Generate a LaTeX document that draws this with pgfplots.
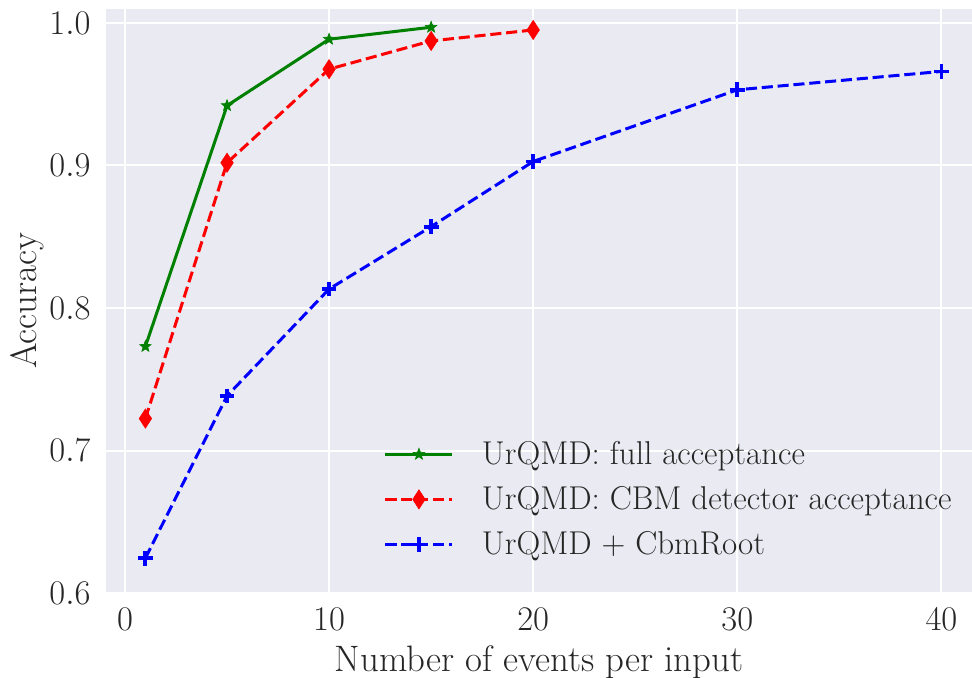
\documentclass[border=0pt]{standalone}
\usepackage{pgfplots}
\pgfplotsset{compat=1.18}
\usetikzlibrary{plotmarks}
\definecolor{bgcol}{HTML}{EAEAF2}
\definecolor{txtcol}{HTML}{262626}
\definecolor{mplgreen}{rgb}{0,0.5,0}
\pgfdeclareplotmark{fstar}{%
  \pgfpathmoveto{\pgfpointpolar{90}{\pgfplotmarksize}}%
  \pgfpathlineto{\pgfpointpolar{126}{0.42\pgfplotmarksize}}%
  \pgfpathlineto{\pgfpointpolar{162}{\pgfplotmarksize}}%
  \pgfpathlineto{\pgfpointpolar{198}{0.42\pgfplotmarksize}}%
  \pgfpathlineto{\pgfpointpolar{234}{\pgfplotmarksize}}%
  \pgfpathlineto{\pgfpointpolar{270}{0.42\pgfplotmarksize}}%
  \pgfpathlineto{\pgfpointpolar{306}{\pgfplotmarksize}}%
  \pgfpathlineto{\pgfpointpolar{342}{0.42\pgfplotmarksize}}%
  \pgfpathlineto{\pgfpointpolar{18}{\pgfplotmarksize}}%
  \pgfpathlineto{\pgfpointpolar{54}{0.42\pgfplotmarksize}}%
  \pgfpathclose\pgfusepathqfillstroke}
\pgfdeclareplotmark{fdiamond}{%
  \pgfpathmoveto{\pgfqpoint{0pt}{\pgfplotmarksize}}%
  \pgfpathlineto{\pgfqpoint{0.65\pgfplotmarksize}{0pt}}%
  \pgfpathlineto{\pgfqpoint{0pt}{-\pgfplotmarksize}}%
  \pgfpathlineto{\pgfqpoint{-0.65\pgfplotmarksize}{0pt}}%
  \pgfpathclose\pgfusepathqfillstroke}
\begin{document}
\begin{tikzpicture}
\useasboundingbox (-53pt,-42pt) rectangle (433pt,296.5pt);
\begin{axis}[
  at={(0pt,0pt)}, anchor=south west,
  scale only axis, width=433pt, height=292pt,
  xmin=-0.93, xmax=41.5, ymin=0.6, ymax=1.0098,
  xtick={0,10,20,30,40}, ytick={0.6,0.7,0.8,0.9,1.0},
  axis background/.style={fill=bgcol},
  axis line style={draw=none}, tick style={draw=none},
  grid=major, major grid style={white, line width=1pt},
  ticklabel style={font=\fontsize{16}{19}\selectfont, text=txtcol, inner sep=0pt},
  xticklabel style={yshift=-7.5pt},
  yticklabel style={xshift=-7.5pt, /pgf/number format/.cd, fixed, fixed zerofill, precision=1},
  xlabel={Number of events per input}, ylabel={Accuracy},
  label style={font=\fontsize{18.4}{22}\selectfont, text=txtcol},
  xlabel style={at={(axis description cs:0.5,0)}, anchor=base, yshift=-39pt},
  ylabel style={at={(axis description cs:0,0.5)}, anchor=center, yshift=39.5pt},
  legend style={draw=none, fill=none, at={(axis description cs:0.3205,0.2675)}, anchor=north west,
    font=\fontsize{16.5}{19.5}\selectfont, text=txtcol, row sep=5.5pt, column sep=12pt, inner sep=0pt},
  legend cell align=left,
  legend image code/.code={\draw[mark repeat=2,mark phase=2,#1] plot coordinates {(0pt,0pt) (16.75pt,0pt) (33.5pt,0pt)};},
]
\addplot[mplgreen, line width=1.5pt, mark=fstar, mark size=3pt, mark options={solid, line width=0.3pt}]
  coordinates {(1,0.773) (5,0.942) (10,0.9886) (15,0.997)};
\addlegendentry{UrQMD: full acceptance}
\addplot[red, line width=1.5pt, dash pattern=on 5.55pt off 2.4pt, mark=fdiamond, mark size=4.8pt, mark options={solid, line width=0.3pt}]
  coordinates {(1,0.7224) (5,0.9019) (10,0.9676) (15,0.9874) (20,0.9951)};
\addlegendentry{UrQMD: CBM detector acceptance}
\addplot[blue, line width=1.5pt, dash pattern=on 5.55pt off 2.4pt, mark=+, mark size=3.7pt, mark options={solid, line width=1.9pt}]
  coordinates {(1,0.6245) (5,0.7383) (10,0.8133) (15,0.8571) (20,0.9028) (30,0.9531) (40,0.966)};
\addlegendentry{UrQMD + CbmRoot}
\end{axis}
\end{tikzpicture}
\end{document}
